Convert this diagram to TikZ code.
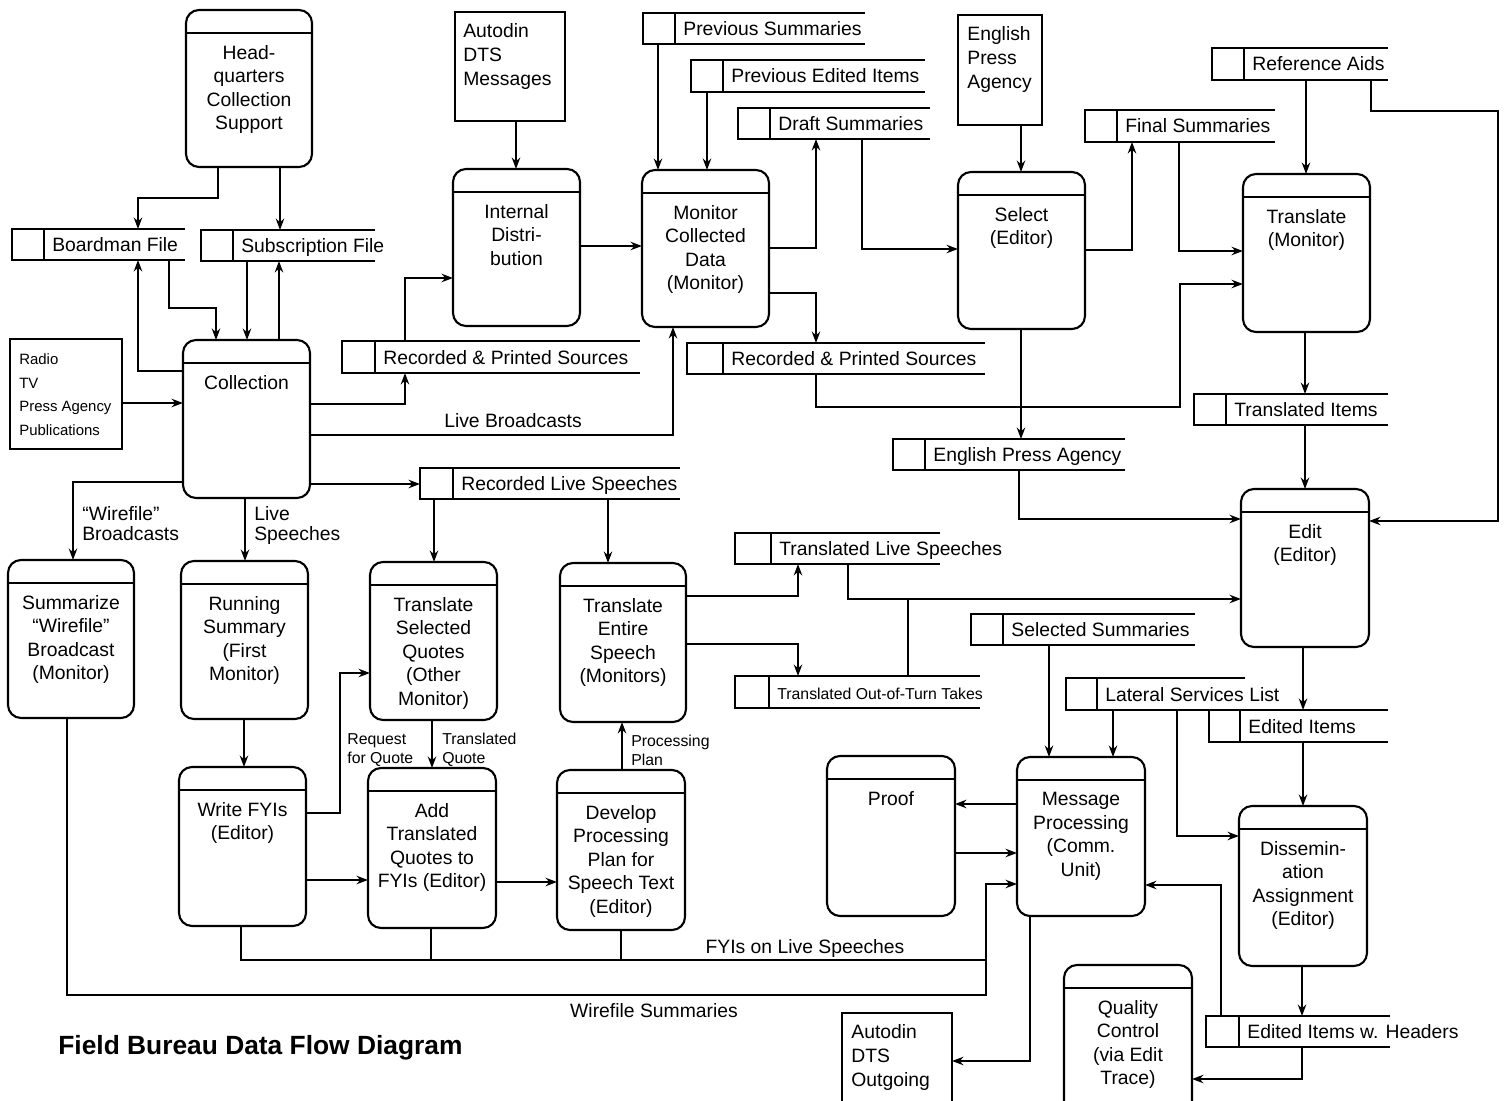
\documentclass[tikz,border=0pt]{standalone}
\usepackage{fontspec}
\setmainfont{Liberation Sans}
\usetikzlibrary{arrows.meta}
\tikzset{
  ln/.style={line width=1.15pt},
  arr/.style={line width=1.05pt,-{Stealth[length=6.5pt,width=4.8pt]}},
  procbox/.style={draw,line width=1.2pt,rounded corners=0.26cm,inner sep=0,outer sep=0},
  entbox/.style={draw,line width=1.15pt,inner sep=0,outer sep=0},
  ptext/.style={font=\fontsize{11}{13.4}\selectfont,align=center,inner sep=0},
  etext/.style={font=\fontsize{11}{13.6}\selectfont,align=left,inner sep=0},
  rtext/.style={font=\fontsize{8.5}{13.6}\selectfont,align=left,inner sep=0},
  stxt/.style={font=\fontsize{11}{13.4}\selectfont,inner sep=0},
  lbl/.style={font=\fontsize{11}{11.6}\selectfont,align=left,inner sep=0},
  slbl/.style={font=\fontsize{9}{10.8}\selectfont,align=left,inner sep=0},
}
% process box: name, x1, y1, x2, y2, text
\newcommand\proc[6]{%
  \node[procbox,minimum width={(#4-#2)*0.02cm},minimum height={(#5-#3)*0.02cm},anchor=north west] (#1) at (#2,#3) {};
  \draw[ln] ([yshift=-0.46cm]#1.north west) -- ([yshift=-0.46cm]#1.north east);
  \node[ptext,anchor=north] (#1-t) at ([yshift=-0.70cm]#1.north) {#6};
}
% data store: name, x1, xsq, x2, y1, y2, text, text style
\newcommand\dstore[8]{%
  \node[inner sep=0,outer sep=0,minimum width={(#4-#2)*0.02cm},minimum height={(#6-#5)*0.02cm},anchor=north west] (#1) at (#2,#5) {};
  \draw[ln] (#1.north east) -- (#1.north west) -- (#1.south west) -- (#1.south east);
  \draw[ln] (#1.north west -| #3,0) -- (#1.south west -| #3,0);
  \node[#8,anchor=base west] (#1-t) at ({#3+8},{(#5+#6)/2+7}) {#7};
}
% external entity: name, x1, y1, x2, y2, text, text style, text dx, text dy
\newcommand\ent[9]{%
  \node[entbox,minimum width={(#4-#2)*0.02cm},minimum height={(#5-#3)*0.02cm},anchor=north west] (#1) at (#2,#3) {};
  \node[#7,anchor=north west] (#1-t) at ({#2+#8},{#3+#9}) {#6};
}
\begin{document}
\begin{tikzpicture}[x=0.02cm,y=-0.02cm]
\fill[white] (0,0) rectangle (1507,1101);
\useasboundingbox (0,0) rectangle (1507,1101);

% ---------- processes ----------
\proc{hq}{186}{10}{312}{167}{Head-\\quarters\\Collection\\Support}
\proc{intd}{453}{169}{580}{326}{Internal\\Distri-\\bution}
\proc{mon}{642}{170}{769}{327}{Monitor\\Collected\\Data\\(Monitor)}
\proc{sel}{958}{172}{1085}{329}{Select\\(Editor)}
\proc{trans}{1243}{174}{1370}{332}{Translate\\(Monitor)}
\proc{coll}{183}{340}{310}{498}{Collection}
\proc{edit}{1241}{489}{1369}{647}{Edit\\(Editor)}
\proc{summ}{8}{560}{134}{718}{Summarize\\“Wirefile”\\Broadcast\\(Monitor)}
\proc{run}{181}{561}{308}{719}{Running\\Summary\\(First\\Monitor)}
\proc{tsq}{370}{562}{497}{720}{Translate\\Selected\\Quotes\\(Other\\Monitor)}
\proc{tes}{560}{563}{686}{722}{Translate\\Entire\\Speech\\(Monitors)}
\proc{fyi}{179}{767}{306}{926}{Write FYIs\\(Editor)}
\proc{addq}{368}{768}{496}{928}{Add\\Translated\\Quotes to\\FYIs (Editor)}
\proc{dev}{557}{770}{685}{930}{Develop\\Processing\\Plan for\\Speech Text\\(Editor)}
\proc{proof}{827}{756}{955}{916}{Proof}
\proc{msg}{1017}{757}{1145}{916}{Message\\Processing\\(Comm.\\Unit)}
\proc{diss}{1239}{806}{1367}{966}{Dissemin-\\ation\\Assignment\\(Editor)}
\proc{qc}{1064}{965}{1192}{1140}{Quality\\Control\\(via Edit\\Trace)}

% ---------- external entities ----------
\ent{adin}{455}{12}{565}{121}{Autodin\\DTS\\Messages}{etext}{8}{11}
\ent{epae}{958}{15}{1042}{125}{English\\Press\\Agency}{etext}{9}{11}
\ent{radio}{10}{339}{122}{449}{Radio\\TV\\Press Agency\\Publications}{rtext}{9}{14}
\ent{aout}{842}{1013}{952}{1140}{Autodin\\DTS\\Outgoing}{etext}{9}{11}

% ---------- data stores ----------
\dstore{bf}{12}{44}{185}{229}{260}{Boardman File}{stxt}
\dstore{sf}{201}{233}{375}{230}{261}{Subscription File}{stxt}
\dstore{ps}{643}{675}{865}{13}{44}{Previous Summaries}{stxt}
\dstore{pei}{691}{723}{925}{60}{92}{Previous Edited Items}{stxt}
\dstore{ds}{738}{770}{930}{108}{139}{Draft Summaries}{stxt}
\dstore{fs}{1085}{1117}{1275}{110}{142}{Final Summaries}{stxt}
\dstore{ra}{1212}{1244}{1388}{48}{80}{Reference Aids}{stxt}
\dstore{rps1}{342}{375}{640}{341}{373}{Recorded \& Printed Sources}{stxt}
\dstore{rps2}{687}{723}{985}{343}{374}{Recorded \& Printed Sources}{stxt}
\dstore{ti}{1194}{1226}{1388}{394}{425}{Translated Items}{stxt}
\dstore{epa}{893}{925}{1125}{439}{470}{English Press Agency}{stxt}
\dstore{rls}{420}{453}{680}{468}{499}{Recorded Live Speeches}{stxt}
\dstore{tls}{735}{771}{940}{533}{564}{Translated Live Speeches}{stxt}
\dstore{ss}{971}{1003}{1195}{614}{645}{Selected Summaries}{stxt}
\dstore{oot}{735}{769}{980}{676}{708}{Translated Out-of-Turn Takes}{slbl}
\dstore{lsl}{1066}{1097}{1245}{678}{710}{Lateral Services List}{stxt}
\dstore{ei}{1209}{1240}{1388}{710}{742}{Edited Items}{stxt}
\dstore{eih}{1206}{1239}{1390}{1016}{1047}{Edited Items w. Headers}{stxt}

% ---------- connectors ----------
\draw[arr] (hq.south -| 218,0) -- (218,198) -- (138,198) -- (bf.north -| 138,0);
\draw[arr] (hq.south -| 280,0) -- (sf.north -| 280,0);
\draw[arr] (bf.south -| 169,0) -- (169,308) -- (216,308) -- (coll.north -| 216,0);
\draw[arr] (sf.south -| 247,0) -- (coll.north -| 247,0);
\draw[arr] (coll.north -| 279,0) -- (sf.south -| 279,0);
\draw[arr] (coll.west |- 0,371) -- (138,371) -- (bf.south -| 138,0);
\draw[arr] (radio.east |- 0,403) -- (coll.west |- 0,403);
\draw[arr] (coll.east |- 0,404) -- (405,404) -- (rps1.south -| 405,0);
\draw[arr] (rps1.north -| 405,0) -- (405,278) -- (intd.west |- 0,278);
\draw[arr] (adin.south -| 516,0) -- (intd.north -| 516,0);
\draw[arr] (intd.east |- 0,246) -- (mon.west |- 0,246);
\draw[arr] (coll.east |- 0,435) -- (673,435) -- (mon.south -| 673,0);
\node[lbl,anchor=center] (lb) at (513,421) {Live Broadcasts};
\draw[arr] (ps.south -| 658,0) -- (mon.north -| 658,0);
\draw[arr] (pei.south -| 707,0) -- (mon.north -| 707,0);
\draw[arr] (mon.east |- 0,248) -- (816,248) -- (ds.south -| 816,0);
\draw[arr] (ds.south -| 862,0) -- (862,249) -- (sel.west |- 0,249);
\draw[arr] (mon.east |- 0,293) -- (816,293) -- (rps2.north -| 816,0);
\draw[arr] (rps2.south -| 816,0) -- (816,407) -- (1180,407) -- (1180,284) -- (trans.west |- 0,284);
\draw[arr] (epae.south -| 1021,0) -- (sel.north -| 1021,0);
\draw[arr] (sel.east |- 0,250) -- (1132,250) -- (fs.south -| 1132,0);
\draw[arr] (fs.south -| 1179,0) -- (1179,251) -- (trans.west |- 0,251);
\draw[arr] (sel.south -| 1021,0) -- (epa.north -| 1021,0);
\draw[arr] (ra.south -| 1306,0) -- (trans.north -| 1306,0);
\draw[arr] (ra.south -| 1371,0) -- (1371,111) -- (1498,111) -- (1498,521) -- (edit.east |- 0,521);
\draw[arr] (coll.east |- 0,484) -- (rls.west |- 0,484);
\draw[arr] (coll.west |- 0,482) -- (73,482) -- (summ.north -| 73,0);
\node[lbl,anchor=north west] (wb) at (82,506) {“Wirefile”\\Broadcasts};
\draw[arr] (coll.south -| 245,0) -- (run.north -| 245,0);
\node[lbl,anchor=north west] (ls) at (254,506) {Live\\Speeches};
\draw[arr] (rls.south -| 434,0) -- (tsq.north -| 434,0);
\draw[arr] (rls.south -| 608,0) -- (tes.north -| 608,0);
\draw[arr] (tes.east |- 0,596) -- (798,596) -- (tls.south -| 798,0);
\draw[arr] (tes.east |- 0,644) -- (798,644) -- (oot.north -| 798,0);
\draw[arr] (tls.south -| 848,0) -- (848,599) -- (edit.west |- 0,599);
\draw[ln] (oot.north -| 908,0) -- (908,599);
\draw[arr] (epa.south -| 1019,0) -- (1019,519) -- (edit.west |- 0,519);
\draw[arr] (trans.south -| 1305,0) -- (ti.north -| 1305,0);
\draw[arr] (ti.south -| 1305,0) -- (edit.north -| 1305,0);
\draw[arr] (edit.south -| 1303,0) -- (ei.north -| 1303,0);
\draw[arr] (lsl.south -| 1113,0) -- (msg.north -| 1113,0);
\draw[arr] (ss.south -| 1049,0) -- (msg.north -| 1049,0);
\draw[arr] (lsl.south -| 1177,0) -- (1177,836) -- (diss.west |- 0,836);
\draw[arr] (ei.south -| 1303,0) -- (diss.north -| 1303,0);
\draw[arr] (diss.south -| 1302,0) -- (eih.north -| 1302,0);
\draw[arr] (eih.north -| 1221,0) -- (1221,885) -- (msg.east |- 0,885);
\draw[arr] (eih.south -| 1302,0) -- (1302,1079) -- (qc.east |- 0,1079);
\draw[arr] (msg.west |- 0,804) -- (proof.east |- 0,804);
\draw[arr] (proof.east |- 0,853) -- (msg.west |- 0,853);
\draw[arr] (msg.south -| 1030,0) -- (1030,1061) -- (aout.east |- 0,1061);
\draw[arr] (fyi.south -| 241,0) -- (241,960) -- (986,960) -- (986,884) -- (msg.west |- 0,884);
\draw[ln] (addq.south -| 431,0) -- (431,960);
\draw[ln] (dev.south -| 621,0) -- (621,960);
\node[lbl,anchor=center] (fls) at (805,948) {FYIs on Live Speeches};
\draw[ln] (summ.south -| 67,0) -- (67,995) -- (986,995) -- (986,960);
\node[lbl,anchor=center] (wfs) at (654,1011) {Wirefile Summaries};
\draw[arr] (run.south -| 244,0) -- (fyi.north -| 244,0);
\draw[arr] (fyi.east |- 0,813) -- (340,813) -- (340,673) -- (tsq.west |- 0,673);
\node[slbl,anchor=north west] (rq) at (347,733) {Request\\for Quote};
\draw[arr] (tsq.south -| 432,0) -- (addq.north -| 432,0);
\node[slbl,anchor=north west] (tq) at (442,733) {Translated\\Quote};
\draw[arr] (fyi.east |- 0,880) -- (addq.west |- 0,880);
\draw[arr] (addq.east |- 0,882) -- (dev.west |- 0,882);
\draw[arr] (dev.north -| 622,0) -- (tes.south -| 622,0);
\node[slbl,anchor=north west] (pp) at (631,735) {Processing\\Plan};

% ---------- title ----------
\node[anchor=west,inner sep=0,font=\bfseries\fontsize{15}{18}\selectfont] (title) at (58,1048) {Field Bureau Data Flow Diagram};
\end{tikzpicture}
\end{document}
